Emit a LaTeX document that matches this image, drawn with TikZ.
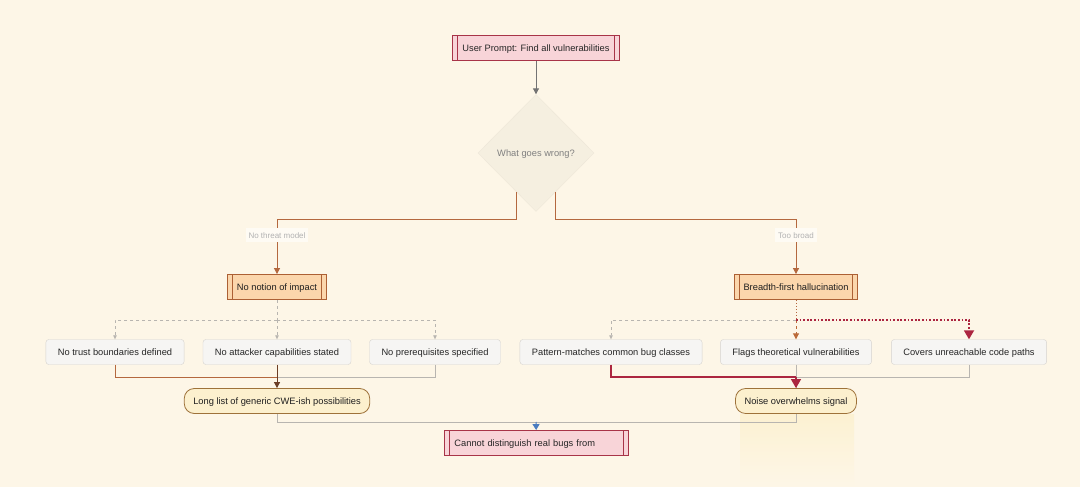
\documentclass[tikz,border=0pt]{standalone}
\usepackage{fontspec}
\setmainfont{Liberation Sans}
\usetikzlibrary{shapes.geometric,arrows.meta,positioning,calc}
\definecolor{bgcream}{RGB}{253,246,231}
\definecolor{promptpink}{RGB}{248,212,216}
\definecolor{promptred}{RGB}{168,52,72}
\definecolor{causefill}{RGB}{251,214,172}
\definecolor{causeline}{RGB}{172,96,52}
\definecolor{itemfill}{RGB}{246,245,243}
\definecolor{itemline}{RGB}{214,211,207}
\definecolor{resultfill}{RGB}{252,240,206}
\definecolor{resultline}{RGB}{158,114,58}
\definecolor{linkbrown}{RGB}{180,104,62}
\definecolor{linkgray}{RGB}{184,181,176}
\definecolor{alertred}{RGB}{172,38,64}
\definecolor{arrowblue}{RGB}{74,124,192}

\begin{document}
\begin{tikzpicture}[x=1pt, y=-1pt,
    every node/.style={text height=7.8pt, text depth=0.6pt},
    sub/.style={path picture={
        \draw[#1] ([xshift=5pt]path picture bounding box.north west) -- ([xshift=5pt]path picture bounding box.south west);
        \draw[#1] ([xshift=-5pt]path picture bounding box.north east) -- ([xshift=-5pt]path picture bounding box.south east);}},
    prompt/.style={rectangle, draw=promptred, fill=promptpink, line width=0.9pt, minimum height=25pt,
                   inner xsep=10pt, font=\fontsize{9.3}{11}\selectfont, text=black!85, sub={promptred, line width=0.9pt}},
    cause/.style={rectangle, draw=causeline, fill=causefill, line width=0.9pt, minimum height=25pt,
                  inner xsep=9pt, font=\fontsize{9.3}{11}\selectfont, text=black!88, sub={causeline, line width=0.9pt}},
    item/.style={rectangle, draw=itemline, fill=itemfill, rounded corners=3pt, minimum height=25pt,
                 inner xsep=12pt, font=\fontsize{9.3}{11}\selectfont, text=black!85},
    result/.style={rectangle, draw=resultline, fill=resultfill, rounded corners=10pt, line width=0.8pt,
                   minimum height=25pt, inner xsep=9pt, font=\fontsize{9.3}{11}\selectfont, text=black!88},
    tag/.style={fill=white!55!bgcream, inner sep=3pt, text=black!30, font=\fontsize{8}{9}\selectfont},
    brownlink/.style={draw=linkbrown, line width=1pt},
    graylink/.style={draw=linkgray, line width=0.8pt},
    redlink/.style={draw=alertred, line width=1.4pt},
    tip/.style={-{Triangle[length=6pt, width=6pt]}},
    smalltip/.style={-{Triangle[length=4pt, width=3.5pt]}}
]
    \fill[bgcream] (0,0) rectangle (1080,487);
    \useasboundingbox (0,0) rectangle (1080,487);

    % glow under the noise node
    \shade[top color=resultfill!85!bgcream, bottom color=bgcream] (740,414) rectangle (854,487);

    % top
    \node[prompt] (prompt) at (536,48) {User Prompt: Find all vulnerabilities};
    \node[diamond, fill=black!3!bgcream, draw=black!6!bgcream, minimum width=116pt, minimum height=117pt,
          inner sep=0pt, text=black!50, font=\fontsize{9.3}{11}\selectfont] (wrong) at (536,153) {What goes wrong?};
    \draw[draw=black!55, line width=1pt, tip] (prompt) -- (wrong);

    % branches
    \node[tag] (threat) at (277,235) {No threat model};
    \node[tag] (broad) at (796,235) {Too broad};
    \node[cause] (impact) at (277,287) {No notion of impact};
    \node[cause] (breadth) at (796,287) {Breadth-first hallucination};

    \draw[brownlink] ($(wrong.south)!0.33!(wrong.west)$) -- ++(0,27) -| (threat);
    \draw[brownlink] ($(wrong.south)!0.33!(wrong.east)$) -- ++(0,27) -| (broad);
    \draw[brownlink, tip] (threat) -- (impact);
    \draw[brownlink, tip] (broad) -- (breadth);

    % left group
    \node[item] (trust) at (115,352) {No trust boundaries defined};
    \node[item] (attacker) at (277,352) {No attacker capabilities stated};
    \node[item] (prereq) at (435,352) {No prerequisites specified};
    \node[result] (generic) at (277,401) {Long list of generic CWE-ish possibilities};

    \coordinate (lsplit) at (277,320);
    \coordinate (lmerge) at (277,377);
    \draw[graylink, dashed, line width=0.6pt] (impact) -- (lsplit);
    \draw[graylink, dashed, line width=0.6pt, smalltip] (lsplit) -| (trust);
    \draw[graylink, dashed, line width=0.6pt, smalltip] (lsplit) -- (attacker);
    \draw[graylink, dashed, line width=0.6pt, smalltip] (lsplit) -| (prereq);

    \draw[brownlink] (trust.south) |- (lmerge);
    \draw[graylink] (prereq.south) |- (lmerge);
    \draw[draw=black!40!linkbrown, line width=0.8pt, tip] (attacker) -- (generic);

    % right group
    \node[item] (pattern) at (611,352) {Pattern-matches common bug classes};
    \node[item] (flags) at (796,352) {Flags theoretical vulnerabilities};
    \node[item] (covers) at (969,352) {Covers unreachable code paths};
    \node[result] (noise) at (796,401) {Noise overwhelms signal};

    \coordinate (rsplit) at (796,320);
    \coordinate (rmerge) at (796,377);
    \draw[draw=linkbrown, line width=1pt, dotted] (breadth) -- (rsplit);
    \draw[graylink, dashed, line width=0.6pt, smalltip] (rsplit) -| (pattern);
    \draw[draw=linkbrown!90!orange, dashed, line width=0.9pt, tip] (rsplit) -- (flags);
    \draw[redlink, line width=1.8pt, dash pattern=on 1.8pt off 1.8pt, -{Triangle[length=9pt, width=10pt]}] (rsplit) -| (covers);

    \draw[graylink] (flags) -- (noise);
    \draw[graylink] (covers.south) |- (rmerge);
    \draw[redlink] (pattern.south) |- (rmerge);
    \draw[redlink, -{Triangle[length=9pt, width=10pt]}] (rmerge) -- (noise);

    % bottom
    \node[prompt, anchor=west, text width=164pt, align=left] (cannot) at (444,443) {Cannot distinguish real bugs from};
    \coordinate (bmerge) at (536,422);
    \draw[graylink] (generic.south) |- (bmerge);
    \draw[graylink] (noise.south) |- (bmerge);
    \draw[draw=arrowblue, line width=1pt, -{Triangle[length=6pt, width=7pt]}] (bmerge) -- (cannot);
\end{tikzpicture}
\end{document}
